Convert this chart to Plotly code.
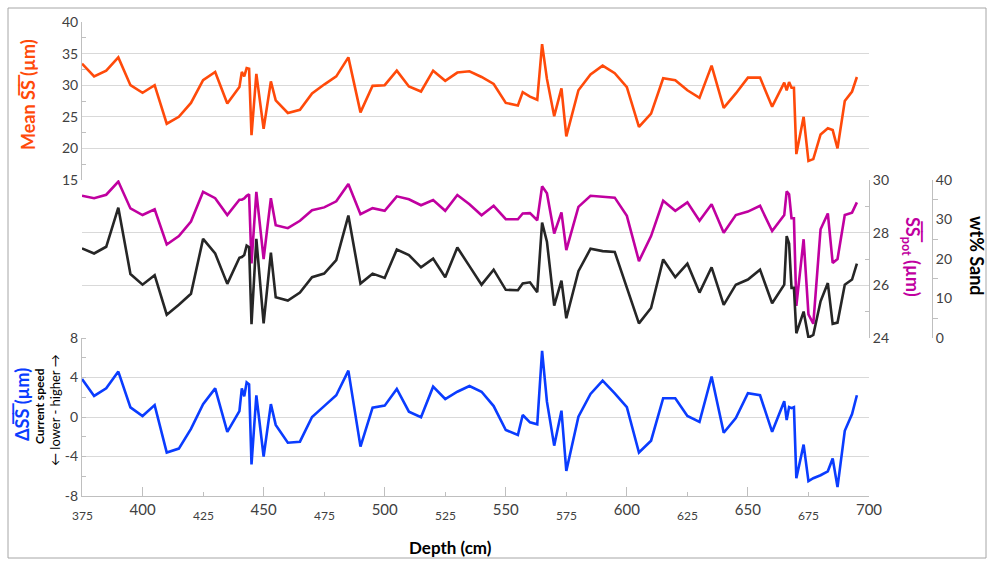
import plotly.graph_objects as go

# Core depths (cm) shared by all records
depth = [375, 380, 385, 390, 395, 400, 405, 410, 415, 420, 425, 430, 435, 440,
         441, 442, 443, 444, 445, 447, 450, 453, 455,
         460, 465, 470, 475, 480, 485, 490, 495, 500, 505, 510, 515, 520, 525,
         530, 535, 540, 545, 550, 555,
         557, 560, 563, 565, 567, 570, 573, 575,
         580, 585, 590, 595, 600, 605, 610, 615, 620, 625, 630, 635, 640, 645,
         650, 655, 660, 665,
         666, 667, 668, 669, 670,
         673, 675, 677, 680, 683, 685, 687, 690, 693, 695]

# Mean sortable silt (µm)
mean_ss = [33.4, 31.4, 32.3, 34.4, 30.0, 28.8, 30.0, 23.9, 25.0, 27.2, 30.8, 32.1, 27.1, 29.7,
           32.1, 31.4, 32.7, 32.6, 22.1, 31.8, 23.1, 30.6, 27.6,
           25.6, 26.1, 28.7, 30.1, 31.4, 34.4, 25.7, 29.9, 30.0, 32.3, 29.8, 29.0, 32.3, 30.7,
           32.0, 32.2, 31.3, 30.2, 27.2, 26.8,
           28.9, 28.2, 27.7, 36.5, 31.0, 25.1, 29.5, 21.9,
           29.2, 31.7, 33.1, 31.9, 29.7, 23.4, 25.5, 31.1, 30.8, 29.2, 28.0, 33.1, 26.4, 28.7,
           31.2, 31.2, 26.6, 30.4,
           29.2, 30.5, 29.6, 29.6, 19.1,
           25.0, 18.0, 18.3, 22.2, 23.2, 22.9, 20.0, 27.5, 29.0, 31.3]

# Potential sortable silt (µm)
ss_pot = [29.40, 29.31, 29.44, 29.94, 28.92, 28.67, 28.89, 27.55, 27.87, 28.42, 29.55, 29.31, 28.67, 29.25,
          29.25, 29.30, 29.40, 29.46, 26.83, 29.55, 27.00, 29.31, 28.28,
          28.17, 28.45, 28.85, 28.96, 29.19, 29.85, 28.70, 28.93, 28.83, 29.38, 29.27, 29.04, 29.24, 28.83,
          29.43, 29.08, 28.66, 29.02, 28.51, 28.51,
          28.73, 28.74, 28.47, 29.76, 29.50, 27.97, 28.77, 27.34,
          28.98, 29.40, 29.36, 29.33, 28.64, 26.92, 27.87, 29.21, 28.83, 29.15, 28.45, 29.08, 28.00, 28.67,
          28.80, 29.02, 28.06, 28.67,
          29.57, 29.46, 28.55, 28.55, 25.22,
          27.75, 24.90, 24.54, 28.13, 28.73, 26.85, 27.00, 28.67, 28.76, 29.15]

# Sand content (wt%)
sand = [22.7, 21.4, 23.1, 33.0, 16.2, 13.5, 15.9, 5.9, 8.4, 11.2, 25.1, 21.4, 13.7, 20.3,
        20.5, 21.0, 23.4, 23.0, 3.5, 25.1, 3.7, 21.6, 10.3,
        9.5, 11.5, 15.4, 16.3, 19.7, 31.0, 13.8, 16.3, 15.2, 22.4, 21.0, 17.9, 20.1, 15.4,
        22.9, 18.2, 13.5, 17.3, 12.2, 12.1,
        13.8, 14.1, 11.6, 29.2, 24.4, 8.2, 14.5, 5.0,
        16.9, 22.6, 22.0, 21.8, 13.0, 3.7, 7.6, 19.9, 15.4, 18.8, 11.5, 17.9, 8.4, 13.5,
        14.8, 17.3, 8.8, 13.5,
        25.8, 23.9, 12.7, 12.7, 1.2,
        6.7, 0.1, 0.8, 9.3, 13.9, 3.6, 3.9, 13.5, 14.8, 18.8]

# Sortable silt anomaly (µm)
delta_ss = [3.85, 2.13, 2.9, 4.6, 0.98, 0.1, 1.2, -3.6, -3.2, -1.2, 1.3, 2.9, -1.5, 0.6,
            2.9, 2.1, 3.5, 3.3, -4.8, 2.2, -4.0, 1.3, -0.8,
            -2.6, -2.5, 0.0, 1.1, 2.2, 4.7, -3.0, 0.94, 1.15, 2.84, 0.54, -0.03, 3.07, 1.82,
            2.56, 3.14, 2.56, 1.11, -1.32, -1.82,
            0.2, -0.54, -0.74, 6.7, 1.55, -2.9, 0.64, -5.47,
            0.03, 2.33, 3.68, 2.4, 1.0, -3.6, -2.4, 1.9, 1.9, 0.1, -0.5, 4.1, -1.6, -0.1,
            2.4, 2.2, -1.5, 1.6,
            -0.3, 1.0, 0.9, 1.0, -6.2,
            -2.8, -6.5, -6.2, -5.9, -5.5, -4.2, -7.1, -1.4, 0.3, 2.2]

for series in (mean_ss, ss_pot, sand, delta_ss):
    assert len(series) == len(depth)

major_ticks = [400, 450, 500, 550, 600, 650, 700]
minor_ticks = [375, 425, 475, 525, 575, 625, 675]
delta_ticks = [-8, -4, 0, 4, 8]
delta_labels = ["-8", "-4", "0", "4", "8"]

FONT = "Lato"
GRID = "#d9d9d9"
AXIS = "#bfbfbf"
TICKFONT = dict(family=FONT, size=14, color="#404040")

# pixel geometry of the page (993 x 565)
W, H = 993, 565
L, R, T, B = 82, 61, 22, 69
plot_right = 869
xdom = (plot_right - L) / (W - L - R)


def px(x):
    return (x - L) / (W - L - R)


def py(y):
    return (H - B - y) / (H - T - B)


fig = go.Figure()
fig.add_trace(go.Scatter(x=depth, y=mean_ss, mode="lines", yaxis="y2",
                         line=dict(color="#ff4a0a", width=2.6), showlegend=False))
fig.add_trace(go.Scatter(x=depth, y=sand, mode="lines", yaxis="y4",
                         line=dict(color="#262626", width=2.6), showlegend=False))
fig.add_trace(go.Scatter(x=depth, y=ss_pot, mode="lines", yaxis="y3",
                         line=dict(color="#c000a0", width=2.6), showlegend=False))
fig.add_trace(go.Scatter(x=depth, y=delta_ss, mode="lines", yaxis="y",
                         line=dict(color="#0a3cff", width=2.6), showlegend=False))

fig.update_layout(
    width=W, height=H,
    margin=dict(l=L, r=R, t=T, b=B),
    paper_bgcolor="white", plot_bgcolor="white",
    font=dict(family=FONT, color="#404040"),
    xaxis=dict(domain=[0, xdom], range=[375, 700], anchor="y",
               showgrid=False, zeroline=False, showline=True, linecolor=AXIS, linewidth=1,
               tickvals=major_ticks, ticks="inside", ticklen=9, tickcolor=AXIS,
               tickfont=dict(family=FONT, size=15, color="#404040"),
               minor=dict(tickvals=minor_ticks, ticks="inside", ticklen=4, tickcolor=AXIS)),
    xaxis2=dict(domain=[0, xdom], range=[375, 700], anchor="y", overlaying="x", matches="x",
                side="bottom", showgrid=False, zeroline=False, showline=False,
                showticklabels=False, tickvals=major_ticks, ticks="outside", ticklen=8,
                tickcolor=AXIS,
                minor=dict(tickvals=minor_ticks, ticks="outside", ticklen=4, tickcolor=AXIS)),
    yaxis=dict(domain=[0, 1 / 3], range=[-8, 8], tickvals=delta_ticks, ticktext=delta_labels,
               anchor="x", showgrid=True, gridcolor=GRID, zeroline=False,
               showline=True, linecolor=AXIS, tickfont=TICKFONT, ticks="",
               minor=dict(dtick=2, ticks="inside", ticklen=4, tickcolor=AXIS)),
    yaxis2=dict(domain=[2 / 3, 1], range=[15, 40], dtick=5, anchor="x",
                showgrid=True, gridcolor=GRID, zeroline=False,
                showline=True, linecolor=AXIS, tickfont=TICKFONT, ticks="",
                minor=dict(dtick=2.5, ticks="inside", ticklen=4, tickcolor=AXIS)),
    yaxis3=dict(domain=[1 / 3, 2 / 3], range=[24, 30], dtick=2, anchor="x", side="right",
                showgrid=True, gridcolor=GRID, zeroline=False,
                showline=True, linecolor=AXIS, tickfont=TICKFONT, ticks="",
                minor=dict(dtick=1, ticks="inside", ticklen=4, tickcolor=AXIS)),
    yaxis4=dict(domain=[1 / 3, 2 / 3], range=[0, 40], dtick=10, overlaying="y3",
                anchor="free", position=1, side="right",
                showgrid=False, zeroline=False,
                showline=True, linecolor=AXIS, tickfont=TICKFONT, ticks="",
                minor=dict(dtick=5, ticks="outside", ticklen=5, tickcolor=AXIS)),
)

# Smaller intermediate depth labels
for d in minor_ticks:
    fig.add_annotation(x=d, xref="x", y=py(515), yref="paper", text=str(d),
                       showarrow=False, font=dict(family=FONT, size=12, color="#404040"),
                       xanchor="center", yanchor="middle")

OV = "\u0305"
ss_over = "S" + OV + "S" + OV


def label(x, y, text, size, color, angle=0):
    fig.add_annotation(x=px(x), y=py(y), xref="paper", yref="paper", textangle=angle,
                       text=text, showarrow=False, xanchor="center", yanchor="middle",
                       font=dict(family=FONT, size=size, color=color))


label(450, 547, "<b>Depth (cm)</b>", 17, "black")
label(28, 95, "<b>Mean " + ss_over + " (µm)</b>", 18, "#ff4a0a", -90)
label(22, 405, "<b>Δ" + ss_over + " (µm)</b>", 18, "#0a3cff", -90)
label(39, 406, "<b>Current speed</b>", 12, "black", -90)
label(55, 410, "← lower - higher →", 13, "black", -90)
label(912, 257, "<b>" + ss_over + "<sub>pot</sub> (µm)</b>", 18, "#c000a0", 90)
label(977, 256, "<b>wt% Sand</b>", 18, "black", 90)

# Chart frame
fig.add_shape(type="rect", xref="paper", yref="paper",
              x0=px(8), x1=px(986), y0=py(558), y1=py(8),
              line=dict(color="#a6a6a6", width=1), fillcolor="rgba(0,0,0,0)", layer="below")

fig.write_html("out.html")
